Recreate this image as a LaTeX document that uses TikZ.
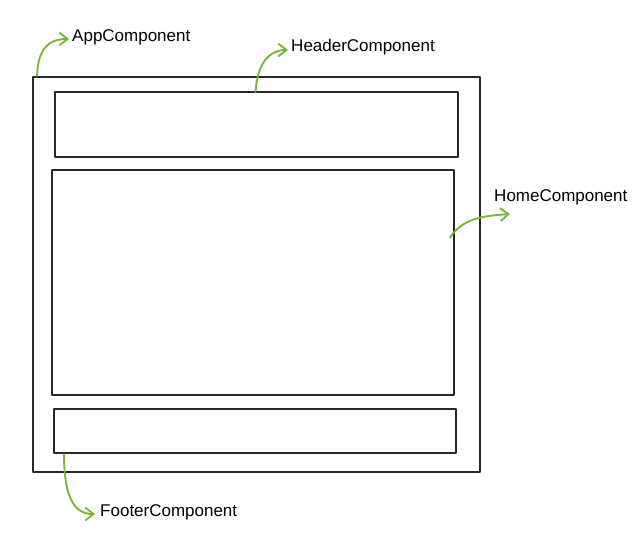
\documentclass[tikz,border=0pt]{standalone}
\usepackage{fontspec}
\setmainfont{Liberation Sans}
\usetikzlibrary{arrows.meta,calc}
\definecolor{sketchgreen}{RGB}{122,181,53}
\definecolor{sketchline}{RGB}{40,40,40}
\tikzset{
  box/.style 2 args={draw=sketchline, line width=1pt, inner sep=0pt, outer sep=0pt,
    minimum width=#1*0.03cm, minimum height=#2*0.03cm},
  tag/.style={anchor=west, inner sep=0pt, font=\fontsize{14.5}{17}\selectfont},
  pointer/.style={draw=sketchgreen, line width=1.6pt, line cap=round,
    -{Straight Barb[length=7pt,width=11pt,line width=1.6pt]}}
}
\begin{document}
\begin{tikzpicture}[x=0.03cm, y=-0.03cm, line join=round]
  \useasboundingbox (0,0) rectangle (638,539);
  % layout
  \node[box={447}{395}] (app) at (256.5,274.5) {};
  \node[box={403}{65}] (header) at (256.5,124.5) {};
  \node[box={402}{225}] (home) at (253,282.5) {};
  \node[box={402}{44}] (footer) at (255,431) {};
  % labels
  \node[tag] (applbl) at (72,37) {AppComponent};
  \node[tag] (headerlbl) at (291,47) {HeaderComponent};
  \node[tag] (homelbl) at (494,197) {HomeComponent};
  \node[tag] (footerlbl) at (100,512) {FooterComponent};
  \coordinate (hometip) at (510,214);
  % pointers
  \draw[pointer] ($(app.north west)+(4,-1)$) .. controls +(1,-30) and +(-18,0) .. ($(applbl.west)+(-3,2)$);
  \draw[pointer] ($(header.north)+(-1,0)$) .. controls +(2,-30) and +(-18,0) .. ($(headerlbl.west)+(-3,3)$);
  \draw[pointer] ($(home.east)+(-4,-45)$) .. controls +(12,-18) and +(-30,2) .. (hometip);
  \draw[pointer] ($(footer.south west)+(10,1)$) .. controls +(0,45) and +(-20,0) .. ($(footerlbl.west)+(-5,2)$);
\end{tikzpicture}
\end{document}
